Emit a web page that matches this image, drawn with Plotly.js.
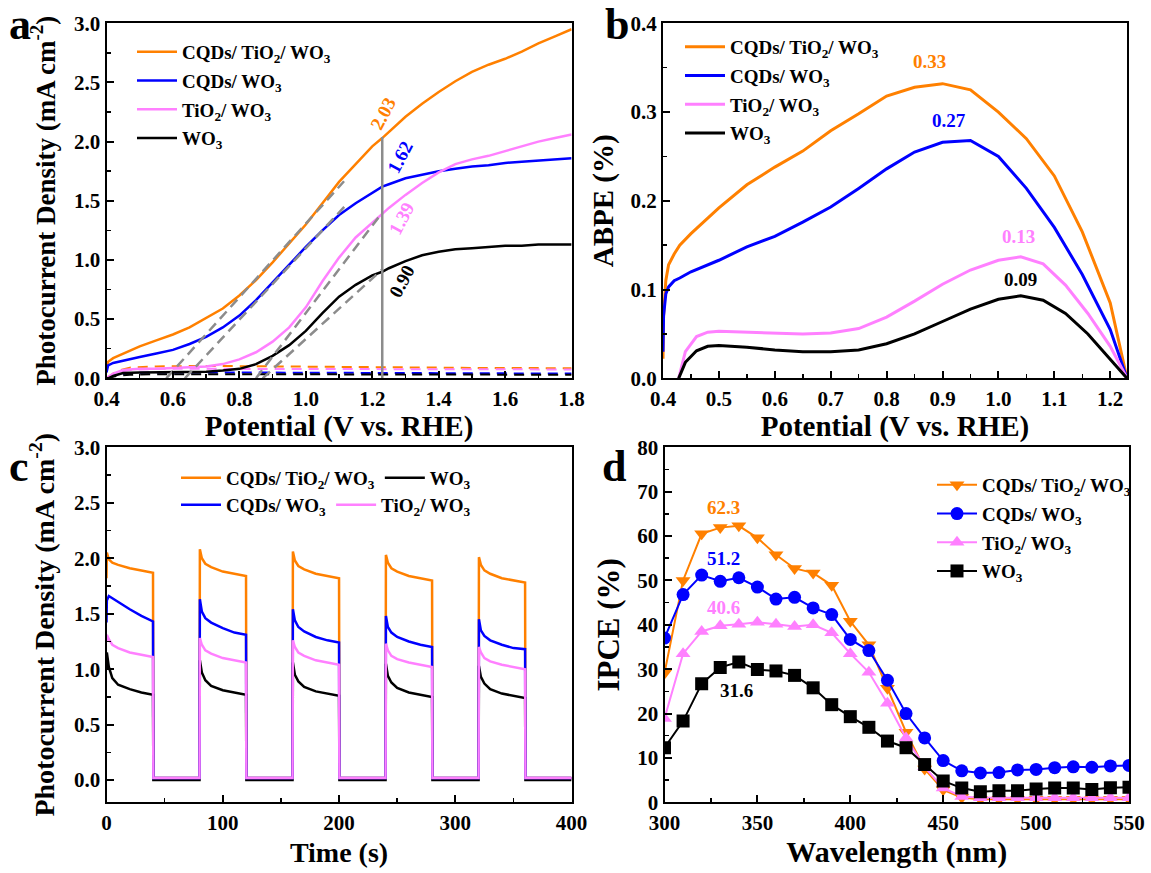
<!DOCTYPE html>
<html><head><meta charset="utf-8">
<script src="https://cdn.plot.ly/plotly-3.0.1.min.js"></script>
<style>html,body{margin:0;padding:0;background:#fff}#chart{width:1151px;height:873px}</style>
</head><body><div id="chart"></div>
<script>
// ---------- names ----------
const seriesNames = ['CQDs/ TiO<sub>2</sub>/ WO<sub>3</sub>', 'CQDs/ WO<sub>3</sub>', 'TiO<sub>2</sub>/ WO<sub>3</sub>', 'WO<sub>3</sub>'];
const seriesColors = ['#ff8000', '#0000ff', '#ff80ff', '#000000'];

// ---------- panel a: LSV ----------
const lsvPotential = [0.40,0.405,0.42,0.45,0.50,0.55,0.60,0.65,0.70,0.75,0.80,0.85,0.90,0.95,1.00,1.05,1.10,1.15,1.20,1.23,1.25,1.30,1.35,1.40,1.45,1.50,1.55,1.60,1.65,1.70,1.75,1.80];
const lsvCqdTiWo = [0.10,0.14,0.17,0.21,0.27,0.32,0.37,0.43,0.51,0.59,0.70,0.83,0.98,1.14,1.30,1.48,1.66,1.81,1.96,2.03,2.08,2.21,2.32,2.42,2.51,2.59,2.65,2.70,2.76,2.83,2.89,2.95];
const lsvCqdWo   = [0.05,0.11,0.13,0.15,0.18,0.21,0.24,0.29,0.35,0.43,0.53,0.66,0.81,0.96,1.11,1.25,1.38,1.48,1.57,1.62,1.64,1.69,1.72,1.75,1.77,1.79,1.80,1.82,1.83,1.84,1.85,1.86];
const lsvTiWo    = [0.00,0.01,0.04,0.07,0.08,0.08,0.085,0.09,0.10,0.12,0.16,0.22,0.31,0.43,0.60,0.82,1.02,1.19,1.32,1.39,1.44,1.55,1.65,1.74,1.81,1.85,1.88,1.92,1.96,2.00,2.03,2.06];
const lsvWo      = [0.00,0.00,0.02,0.045,0.05,0.05,0.05,0.05,0.055,0.065,0.08,0.12,0.19,0.28,0.40,0.55,0.69,0.79,0.87,0.90,0.93,0.99,1.04,1.07,1.09,1.10,1.11,1.12,1.12,1.13,1.13,1.13];
const darkPotential = [0.40,0.43,0.47,0.55,0.70,0.90,1.10,1.30,1.50,1.80];
const darkCqdTiWo = [0.0,0.06,0.09,0.10,0.105,0.10,0.095,0.09,0.088,0.085];
const darkCqdWo   = [0.0,0.03,0.045,0.05,0.05,0.048,0.045,0.043,0.042,0.04];
const darkTiWo    = [0.0,0.05,0.07,0.08,0.08,0.078,0.076,0.075,0.075,0.075];
const darkWo      = [0.0,0.02,0.03,0.035,0.035,0.033,0.032,0.032,0.031,0.03];
const tangentPotential = [[0.58,1.115],[0.636,1.126],[0.85,1.23],[0.87,1.23]];
const tangentCurrent   = [[0,1.665],[0,1.48],[0,1.40],[0,0.92]];
const refPotential = [1.23,1.23];
const refCurrent = [0,2.04];
const labelAText = ['2.03','1.62','1.39','0.90'];
const labelAX = [1.232,1.282,1.288,1.288];
const labelAY = [2.24,1.87,1.35,0.82];

// ---------- panel b: ABPE ----------
const abpePotentialHi = [0.40,0.401,0.405,0.41,0.42,0.43,0.45,0.50,0.55,0.60,0.65,0.70,0.75,0.80,0.85,0.90,0.95,1.00,1.05,1.10,1.15,1.20,1.23];
const abpeCqdTiWo = [0.022,0.07,0.11,0.128,0.14,0.15,0.163,0.192,0.218,0.238,0.256,0.279,0.298,0.318,0.328,0.332,0.325,0.300,0.270,0.228,0.165,0.085,0.0];
const abpeCqdWo   = [0.03,0.07,0.095,0.103,0.11,0.113,0.12,0.133,0.148,0.16,0.176,0.193,0.214,0.236,0.255,0.266,0.268,0.250,0.214,0.170,0.117,0.055,0.0];
const abpePotentialLo = [0.428,0.44,0.46,0.48,0.50,0.55,0.60,0.65,0.70,0.75,0.80,0.85,0.90,0.95,1.00,1.04,1.08,1.12,1.16,1.20,1.23];
const abpeTiWo = [0,0.03,0.047,0.052,0.053,0.052,0.051,0.050,0.051,0.056,0.069,0.087,0.106,0.122,0.133,0.137,0.129,0.105,0.073,0.036,0];
const abpeWo   = [0,0.018,0.031,0.036,0.037,0.035,0.032,0.030,0.030,0.032,0.039,0.050,0.064,0.078,0.089,0.093,0.088,0.073,0.050,0.022,0];
const labelBText = ['0.33','0.27','0.13','0.09'];
const labelBX = [0.877,0.912,1.036,1.039];
const labelBY = [0.357,0.291,0.160,0.111];

// ---------- panel c: chopped light ----------
const chopTime = [0,0.3,2,5,10,20,30,40,40.3,80,
  80.3,82,85,90,100,110,120,120.3,160,
  160.3,162,165,170,180,190,200,200.3,240,
  240.3,242,245,250,260,270,280,280.3,320,
  320.3,322,325,330,340,350,360,360.3,400];
const chopCqdTiWo = [1.82,2.05,1.99,1.96,1.94,1.91,1.89,1.87,0.02,0.02,
  2.08,2.00,1.95,1.92,1.88,1.86,1.84,0.02,0.02,
  2.06,1.98,1.93,1.90,1.86,1.84,1.82,0.02,0.02,
  2.03,1.96,1.91,1.88,1.84,1.82,1.80,0.02,0.02,
  2.01,1.94,1.89,1.86,1.82,1.80,1.78,0.02,0.02];
const chopCqdWo = [1.42,1.62,1.66,1.64,1.60,1.54,1.48,1.43,0.02,0.02,
  1.63,1.52,1.46,1.42,1.37,1.33,1.31,0.02,0.02,
  1.54,1.44,1.38,1.34,1.29,1.26,1.24,0.02,0.02,
  1.48,1.38,1.33,1.29,1.25,1.22,1.20,0.02,0.02,
  1.45,1.35,1.30,1.26,1.22,1.19,1.18,0.02,0.02];
const chopTiWo = [1.25,1.31,1.27,1.22,1.19,1.15,1.13,1.11,0.02,0.02,
  1.28,1.22,1.17,1.14,1.10,1.08,1.06,0.02,0.02,
  1.26,1.20,1.15,1.12,1.08,1.06,1.04,0.02,0.02,
  1.23,1.17,1.12,1.09,1.06,1.04,1.02,0.02,0.02,
  1.20,1.15,1.10,1.07,1.04,1.02,1.00,0.02,0.02];
const chopWo = [1.00,1.15,1.02,0.92,0.86,0.82,0.79,0.77,0,0,
  1.08,0.97,0.90,0.85,0.81,0.79,0.77,0,0,
  1.06,0.95,0.89,0.84,0.80,0.78,0.76,0,0,
  1.05,0.94,0.88,0.83,0.79,0.77,0.75,0,0,
  1.03,0.93,0.87,0.82,0.78,0.76,0.74,0,0];

// ---------- panel d: IPCE ----------
const wavelength = [300,310,320,330,340,350,360,370,380,390,400,410,420,430,440,450,460,470,480,490,500,510,520,530,540,550];
const ipceCqdTiWo = [29.1,50.0,60.5,61.9,62.3,59.6,55.8,52.7,51.7,48.9,40.8,35.5,25.7,15.8,7.5,2.8,1.1,0.7,0.7,0.7,0.7,0.7,0.7,0.7,0.7,0.7];
const ipceCqdWo   = [37.0,46.8,51.2,49.8,50.6,48.5,45.8,46.2,43.8,42.3,36.7,34.2,27.5,20.0,14.5,9.4,7.1,6.6,6.7,7.3,7.4,7.8,8.0,7.9,8.2,8.3];
const ipceTiWo    = [18.9,33.5,38.5,39.8,40.1,40.6,40.1,39.6,40.0,38.2,33.5,29.3,22.3,14.5,8.0,3.2,1.3,1.0,1.0,1.0,1.0,1.0,1.0,1.0,1.0,1.0];
const ipceWo      = [12.3,18.3,26.7,30.4,31.6,29.9,29.6,28.6,25.8,22.0,19.3,16.9,13.8,12.3,8.5,4.8,3.2,2.4,2.6,2.6,3.0,3.2,3.2,2.9,3.3,3.4];
const ipceSymbols = ['triangle-down','circle','triangle-up','square'];
const labelDText = ['62.3','51.2','40.6','31.6'];
const labelDX = [331.5,331.5,331.5,339];
const labelDY = [66.5,55.0,43.9,25.3];

const panelLetters = ['a','b','c','d'];

// ---------- build ----------
const F = 'Liberation Serif, Times New Roman, serif';
const traces = [];
const lsvSeries = [lsvCqdTiWo, lsvCqdWo, lsvTiWo, lsvWo];
const darkSeries = [darkCqdTiWo, darkCqdWo, darkTiWo, darkWo];
for (let i = 0; i < 4; i++) {
  traces.push({x: darkPotential, y: darkSeries[i], xaxis:'x', yaxis:'y', mode:'lines', showlegend:false,
    line:{color:seriesColors[i], width:2, dash:'10px,7px'}, hoverinfo:'skip'});
}
for (let i = 0; i < 4; i++) {
  traces.push({x: lsvPotential, y: lsvSeries[i], xaxis:'x', yaxis:'y', mode:'lines', name: seriesNames[i],
    legend:'legend', legendgroup:'a'+i, line:{color:seriesColors[i], width:2.5}});
}
for (let i = 0; i < 4; i++) {
  traces.push({x: tangentPotential[i], y: tangentCurrent[i], xaxis:'x', yaxis:'y', mode:'lines', showlegend:false,
    line:{color:'#8c8c8c', width:2.5, dash:'10px,6px'}});
}
traces.push({x: refPotential, y: refCurrent, xaxis:'x', yaxis:'y', mode:'lines', showlegend:false, line:{color:'#8c8c8c', width:2.5}});

const abpeX = [abpePotentialHi, abpePotentialHi, abpePotentialLo, abpePotentialLo];
const abpeY = [abpeCqdTiWo, abpeCqdWo, abpeTiWo, abpeWo];
for (let i = 0; i < 4; i++) {
  traces.push({x: abpeX[i], y: abpeY[i], xaxis:'x2', yaxis:'y2', mode:'lines', name: seriesNames[i],
    legend:'legend2', legendgroup:'b'+i, line:{color:seriesColors[i], width:3}});
}

const chopSeries = [chopCqdTiWo, chopCqdWo, chopTiWo, chopWo];
const chopLegend = ['legend3','legend4','legend4','legend3'];
[0,3,1,2].forEach(i => {
  traces.push({x: chopTime, y: chopSeries[i], xaxis:'x3', yaxis:'y3', mode:'lines', name: seriesNames[i],
    legend: chopLegend[i], line:{color:seriesColors[i], width:2.5}});
});

const ipceSeries = [ipceCqdTiWo, ipceCqdWo, ipceTiWo, ipceWo];
for (let i = 0; i < 4; i++) {
  traces.push({x: wavelength, y: ipceSeries[i], xaxis:'x4', yaxis:'y4', mode:'lines+markers', name: seriesNames[i],
    legend:'legend5', legendgroup:'d'+i, line:{color:seriesColors[i], width:2},
    marker:{symbol: ipceSymbols[i], size: 13, color: seriesColors[i]}});
}

function ax(extra) {
  return Object.assign({
    showline:true, linecolor:'#000', linewidth:2, mirror:true,
    ticks:'inside', ticklen:7, tickwidth:2, tickcolor:'#000',
    showgrid:false, zeroline:false,
    tickfont:{family:F, size:21, color:'#000', weight:'bold'},
  }, extra);
}
function ttl(text, standoff, size) {
  return {text:text, standoff:standoff, font:{family:F, size:size, color:'#000', weight:'bold'}};
}
const minorStyle = {ticks:'inside', ticklen:4, tickwidth:1.5, tickcolor:'#000'};
const H = 873, W = 1151;
const px = v => v / W, py = v => 1 - v / H;

const legendFont = {family:F, size:19, color:'#000', weight:'bold'};
const annotations = [];
for (let i = 0; i < 4; i++) {
  annotations.push({xref:'x', yref:'y', x: labelAX[i], y: labelAY[i], text: labelAText[i], showarrow:false,
    textangle:-62, font:{family:F, size:19, color: seriesColors[i], weight:'bold'}});
  annotations.push({xref:'x2', yref:'y2', x: labelBX[i], y: labelBY[i], text: labelBText[i], showarrow:false,
    font:{family:F, size:19, color: seriesColors[i], weight:'bold'}});
  annotations.push({xref:'x4', yref:'y4', x: labelDX[i], y: labelDY[i], text: labelDText[i], showarrow:false,
    font:{family:F, size:19, color: seriesColors[i], weight:'bold'}});
}
const letterPos = [[20,24],[617,24],[19,466],[614,466]];
panelLetters.forEach((l, i) => {
  annotations.push({xref:'paper', yref:'paper', x: px(letterPos[i][0]), y: py(letterPos[i][1]), text: l, showarrow:false,
    xanchor:'center', yanchor:'middle', font:{family:F, size:44, color:'#000', weight:'bold'}});
});

const layout = {
  width: W, height: H, margin:{l:0, r:0, t:0, b:0}, paper_bgcolor:'#fff', plot_bgcolor:'#fff',
  xaxis: ax({domain:[px(106.5), px(571.6)], anchor:'y', range:[0.4,1.8], dtick:0.2, tick0:0.4, tickformat:'.1f',
    minor:Object.assign({dtick:0.1}, minorStyle), title: ttl('Potential (V vs. RHE)', 5, 29)}),
  yaxis: ax({domain:[py(378.3), py(23.3)], anchor:'x', range:[0,3.0], dtick:0.5, tickformat:'.1f',
    minor:Object.assign({dtick:0.25}, minorStyle), title: ttl('Photocurrent Density (mA cm<sup>-2</sup>)', 11, 27)}),
  xaxis2: ax({domain:[px(663), px(1127)], anchor:'y2', range:[0.4,1.23], dtick:0.1, tick0:0.4, tickformat:'.1f',
    minor:Object.assign({dtick:0.05}, minorStyle), title: ttl('Potential (V vs. RHE)', 0, 29)}),
  yaxis2: ax({domain:[py(378.3), py(23.3)], anchor:'x2', range:[0,0.4], dtick:0.1, tickformat:'.1f',
    minor:Object.assign({dtick:0.05}, minorStyle), title: ttl('ABPE (%)', 8, 29)}),
  xaxis3: ax({domain:[px(106.5), px(571.6)], anchor:'y3', range:[0,400], dtick:100,
    minor:Object.assign({dtick:50}, minorStyle), title: ttl('Time (s)', 9, 28)}),
  yaxis3: ax({domain:[py(802.3), py(447.3)], anchor:'x3', range:[-0.2,3.0], tick0:0, dtick:0.5, tickformat:'.1f',
    minor:Object.assign({dtick:0.25}, minorStyle), title: ttl('Photocurrent Density (mA cm<sup>-2</sup>)', 11, 28)}),
  xaxis4: ax({domain:[px(664.5), px(1129)], anchor:'y4', range:[300,550], dtick:50,
    minor:Object.assign({dtick:25}, minorStyle), title: ttl('Wavelength (nm)', 3, 30)}),
  yaxis4: ax({domain:[py(802.3), py(447.3)], anchor:'x4', range:[0,80], dtick:10,
    minor:Object.assign({dtick:5}, minorStyle), title: ttl('IPCE (%)', 8, 31)}),
  legend:  {x: px(132), y: py(33), xanchor:'left', yanchor:'top', bgcolor:'rgba(0,0,0,0)', font: legendFont, tracegroupgap: 1, itemwidth: 40},
  legend2: {x: px(680), y: py(28), xanchor:'left', yanchor:'top', bgcolor:'rgba(0,0,0,0)', font: legendFont, tracegroupgap: 1, itemwidth: 40},
  legend3: {x: px(176), y: py(459), xanchor:'left', yanchor:'top', orientation:'h', bgcolor:'rgba(0,0,0,0)', font: legendFont, itemwidth: 40},
  legend4: {x: px(176), y: py(486), xanchor:'left', yanchor:'top', orientation:'h', bgcolor:'rgba(0,0,0,0)', font: legendFont, itemwidth: 40},
  legend5: {x: px(932), y: py(466), xanchor:'left', yanchor:'top', bgcolor:'rgba(0,0,0,0)', font: legendFont, tracegroupgap: 1, itemwidth: 40},
  annotations: annotations,
};
Plotly.newPlot('chart', traces, layout, {displayModeBar:false, staticPlot:true});
</script></body></html>
